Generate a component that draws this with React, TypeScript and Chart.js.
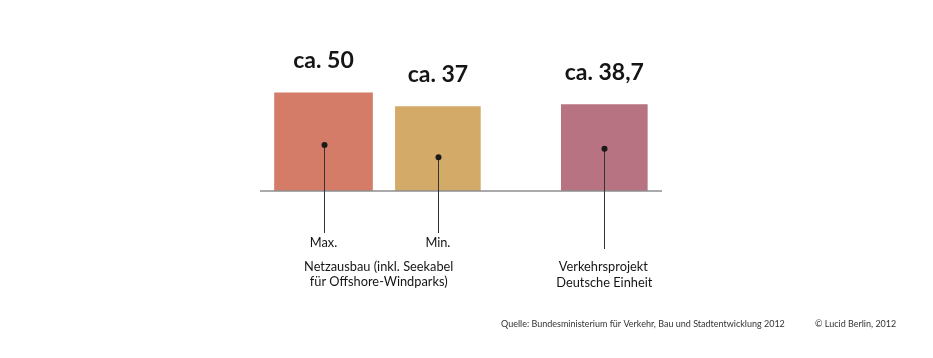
import React, { useEffect, useRef } from 'react';
import { Chart, registerables } from 'chart.js';

Chart.register(...registerables);

// ---- data ----
const categories = ['Max.', 'Min.', 'Verkehrsprojekt Deutsche Einheit'];
const values = [50, 37, 38.7];
const valueLabels = ['ca. 50', 'ca. 37', 'ca. 38,7'];
const netzLabel = ['Netzausbau (inkl. Seekabel', 'für Offshore-Windparks)'];
const verkehrLabel = ['Verkehrsprojekt', 'Deutsche Einheit'];
const sourceText = 'Quelle: Bundesministerium für Verkehr, Bau und Stadtentwicklung 2012';
const creditText = '\u00A9 Lucid Berlin, 2012';

// ---- layout / style ----
const xPositions = [1.58, 4.425, 8.565];
const barWidths = [98, 85, 86];
const colors = ['#D57C69', '#D4AA68', '#B77381'];
const dotFractions = [0.47, 0.4, 0.49];
const leaderEnds = [233, 233, 249];
const BASE = -44;

const labelFont = '12.8px Lato';
const valueFont = 'bold 23px Lato';
const footFont = '9px Lato';
const textColor = '#151515';

const overlayPlugin = {
  id: 'overlay',
  afterDatasetsDraw(chart: any) {
    const ctx = chart.ctx;
    const xs = chart.scales.x;
    const ys = chart.scales.y;
    const area = chart.chartArea;
    const baseY = ys.getPixelForValue(BASE);
    ctx.save();
    // baseline
    ctx.strokeStyle = '#8e8e8e';
    ctx.lineWidth = 1.3;
    ctx.beginPath();
    ctx.moveTo(area.left, baseY);
    ctx.lineTo(area.right, baseY);
    ctx.stroke();

    const centers: number[] = [];
    values.forEach((v, i) => {
      const cx = xs.getPixelForValue(xPositions[i]);
      centers.push(cx);
      const topY = ys.getPixelForValue(v);
      const dotY = baseY - (baseY - topY) * dotFractions[i];
      const lx = Math.round(cx) + 0.5;
      // leader line
      ctx.strokeStyle = '#333';
      ctx.lineWidth = 1;
      ctx.beginPath();
      ctx.moveTo(lx, dotY);
      ctx.lineTo(lx, leaderEnds[i]);
      ctx.stroke();
      // dot
      ctx.fillStyle = '#1a1a1a';
      ctx.beginPath();
      ctx.arc(lx, dotY, 3, 0, Math.PI * 2);
      ctx.fill();
      // value label
      ctx.fillStyle = textColor;
      ctx.font = valueFont;
      ctx.textAlign = 'center';
      ctx.textBaseline = 'middle';
      ctx.fillText(valueLabels[i], cx, topY - 32);
    });

    ctx.fillStyle = textColor;
    ctx.font = labelFont;
    ctx.textAlign = 'center';
    ctx.textBaseline = 'middle';
    ctx.fillText(categories[0], centers[0], 243);
    ctx.fillText(categories[1], centers[1], 243);
    const netzX = (centers[0] + centers[1]) / 2 - 2;
    ctx.fillText(netzLabel[0], netzX, 266.5);
    ctx.fillText(netzLabel[1], netzX, 282);
    ctx.fillText(verkehrLabel[0], centers[2] - 1, 267);
    ctx.fillText(verkehrLabel[1], centers[2], 283);

    ctx.font = footFont;
    ctx.fillStyle = '#333';
    ctx.textAlign = 'left';
    ctx.fillText(sourceText, 501, 324.5);
    ctx.fillText(creditText, 815, 324.5);
    ctx.restore();
  },
};

export default function App() {
  const ref = useRef<HTMLCanvasElement | null>(null);
  useEffect(() => {
    document.body.style.margin = '0';
    const canvas = ref.current;
    if (!canvas) return;
    const chart = new Chart(canvas, {
      type: 'bar',
      data: {
        datasets: values.map((v, i) => ({
          label: categories[i],
          data: [{ x: xPositions[i], y: v }],
          backgroundColor: colors[i],
          borderWidth: 0,
          barThickness: barWidths[i],
          base: BASE,
          grouped: false,
        })) as any,
      },
      options: {
        responsive: false,
        animation: false,
        layout: { padding: { left: 260, right: 271, top: 0, bottom: 167 } },
        plugins: { legend: { display: false }, tooltip: { enabled: false } },
        scales: {
          x: { type: 'linear', min: 0, max: 10, display: false, offset: false },
          y: { min: BASE, max: 139, display: false },
        },
      },
      plugins: [overlayPlugin],
    });
    return () => chart.destroy();
  }, []);
  return (
    <div style={{ width: 933, height: 358, background: '#fff' }}>
      <canvas ref={ref} width={933} height={358} />
    </div>
  );
}
